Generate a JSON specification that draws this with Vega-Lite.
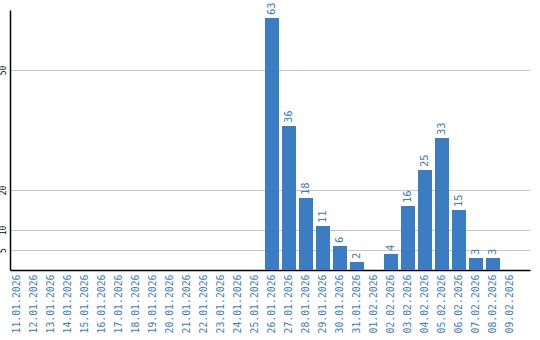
{
  "$schema": "https://vega.github.io/schema/vega-lite/v6.json",
  "width": 520,
  "height": 260,
  "autosize": {"type": "none"},
  "padding": {"left": 10, "top": 10, "right": 10, "bottom": 70},
  "background": "white",
  "config": {"view": {"stroke": null}},
  "data": {"values": [
    {"date": "11.01.2026", "value": 0},
    {"date": "12.01.2026", "value": 0},
    {"date": "13.01.2026", "value": 0},
    {"date": "14.01.2026", "value": 0},
    {"date": "15.01.2026", "value": 0},
    {"date": "16.01.2026", "value": 0},
    {"date": "17.01.2026", "value": 0},
    {"date": "18.01.2026", "value": 0},
    {"date": "19.01.2026", "value": 0},
    {"date": "20.01.2026", "value": 0},
    {"date": "21.01.2026", "value": 0},
    {"date": "22.01.2026", "value": 0},
    {"date": "23.01.2026", "value": 0},
    {"date": "24.01.2026", "value": 0},
    {"date": "25.01.2026", "value": 0},
    {"date": "26.01.2026", "value": 63},
    {"date": "27.01.2026", "value": 36},
    {"date": "28.01.2026", "value": 18},
    {"date": "29.01.2026", "value": 11},
    {"date": "30.01.2026", "value": 6},
    {"date": "31.01.2026", "value": 2},
    {"date": "01.02.2026", "value": 0},
    {"date": "02.02.2026", "value": 4},
    {"date": "03.02.2026", "value": 16},
    {"date": "04.02.2026", "value": 25},
    {"date": "05.02.2026", "value": 33},
    {"date": "06.02.2026", "value": 15},
    {"date": "07.02.2026", "value": 3},
    {"date": "08.02.2026", "value": 3},
    {"date": "09.02.2026", "value": 0}
  ]},
  "encoding": {
    "x": {
      "field": "date", "type": "ordinal", "sort": null,
      "scale": {"paddingInner": 0.176, "paddingOuter": 0.382, "align": 0},
      "axis": {
        "title": null, "ticks": false, "domainColor": "#000000", "domainWidth": 1.5,
        "labelAngle": -90, "labelAlign": "right", "labelBaseline": "middle",
        "labelPadding": 4, "labelColor": "#3a7dc2", "labelFont": "DejaVu Sans Mono",
        "labelFontSize": 9.8, "grid": false
      }
    },
    "y": {
      "field": "value", "type": "quantitative",
      "scale": {"domain": [0, 65], "nice": false},
      "axis": {
        "title": null, "values": [5, 10, 20, 50], "ticks": false,
        "domainColor": "#000000", "domainWidth": 1.5,
        "grid": true, "gridColor": "#c8c8c8", "gridWidth": 1,
        "labelAngle": -90, "labelAlign": "center", "labelBaseline": "bottom",
        "labelPadding": 3, "labelColor": "#000000", "labelFont": "DejaVu Sans Mono",
        "labelFontSize": 8
      }
    }
  },
  "layer": [
    {"mark": {"type": "bar", "color": "#3a7dc2"}},
    {
      "transform": [{"filter": "datum.value > 0"}],
      "mark": {"type": "text", "angle": 270, "align": "left", "baseline": "middle",
               "dx": 3, "color": "#3a7dc2", "font": "DejaVu Sans Mono", "fontSize": 10.5},
      "encoding": {"text": {"field": "value", "type": "quantitative"}}
    }
  ]
}
